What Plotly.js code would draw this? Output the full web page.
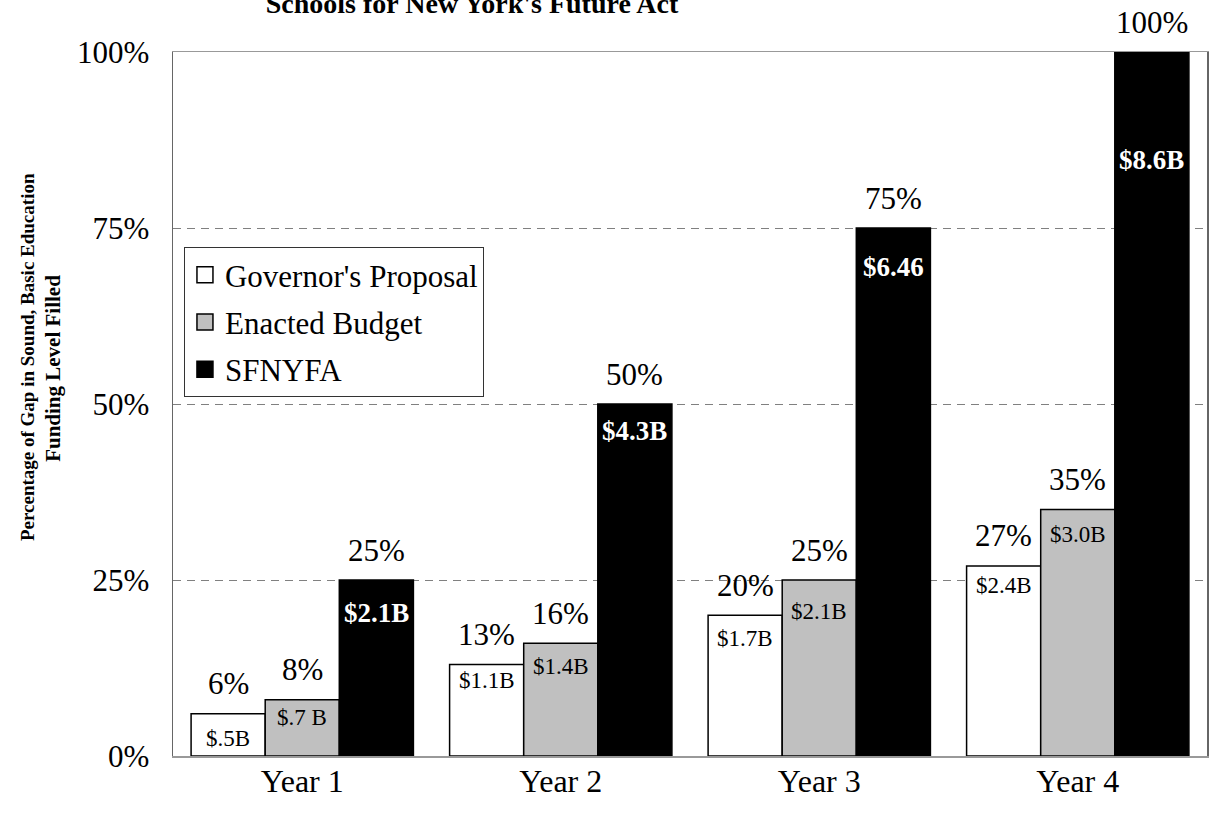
<!DOCTYPE html>
<html>
<head>
<meta charset="utf-8">
<script src="https://cdn.plot.ly/plotly-3.0.1.min.js"></script>
<style>html,body{margin:0;padding:0;background:#fff;}#chart{width:1210px;height:824px;}</style>
</head>
<body>
<div id="chart"></div>
<script>
const categories = ['Year 1', 'Year 2', 'Year 3', 'Year 4'];
const seriesNames = ["Governor's Proposal", 'Enacted Budget', 'SFNYFA'];
const governorPct = [6, 13, 20, 27];
const enactedPct = [8, 16, 25, 35];
const sfnyfaPct = [25, 50, 75, 100];
const governorDollars = ['$.5B', '$1.1B', '$1.7B', '$2.4B'];
const enactedDollars = ['$.7 B', '$1.4B', '$2.1B', '$3.0B'];
const sfnyfaDollars = ['$2.1B', '$4.3B', '$6.46', '$8.6B'];
const yTickVals = [0, 25, 50, 75, 100];
const yTickText = ['0%', '25%', '50%', '75%', '100%'];

const serif = '"Liberation Serif", "Times New Roman", serif';
const fills = ['#ffffff', '#c0c0c0', '#000000'];
const allPct = [governorPct, enactedPct, sfnyfaPct];
const allDollars = [governorDollars, enactedDollars, sfnyfaDollars];
// pixel offsets (below bar top) of the dollar labels, per series
const dollarShiftPx = [[-25, -16, -23, -20], [-18, -23, -31, -25], [-33, -27, -39, -108]];

const traces = allPct.map((vals, i) => ({
  type: 'bar',
  name: seriesNames[i],
  x: categories,
  y: vals,
  marker: {color: fills[i], line: {color: '#000', width: 1.5}},
  showlegend: false,
  hoverinfo: 'none'
}));
// legend entries (no data points) so the legend squares can be larger
seriesNames.forEach((nm, i) => {
  traces.push({
    type: 'scatter', mode: 'markers', name: nm,
    x: [null], y: [null], legendgroup: 'g' + i,
    marker: {symbol: 'square', size: 16, color: fills[i], line: {color: '#000', width: 1.5}},
    hoverinfo: 'none'
  });
});

const barPx = 74;
const annotations = [];
allPct.forEach((vals, i) => {
  vals.forEach((v, j) => {
    annotations.push({
      x: categories[j], y: v, xref: 'x', yref: 'y',
      xshift: (i - 1) * barPx, yshift: 30, yanchor: 'middle',
      text: v + '%', showarrow: false,
      font: {family: serif, size: 31, color: '#000'}
    });
    const white = i === 2;
    annotations.push({
      x: categories[j], y: v, xref: 'x', yref: 'y',
      xshift: (i - 1) * barPx, yshift: dollarShiftPx[i][j], yanchor: 'middle',
      text: white ? '<b>' + allDollars[i][j] + '</b>' : allDollars[i][j],
      showarrow: false,
      font: {family: serif, size: white ? 27 : 23, color: white ? '#fff' : '#000'}
    });
  });
});
annotations.push({
  xref: 'paper', yref: 'paper', x: -0.140, y: 0.567, xanchor: 'center', yanchor: 'middle',
  textangle: -90, showarrow: false,
  text: '<b>Percentage of Gap in Sound, Basic Education</b>',
  font: {family: serif, size: 19, color: '#000'}
});
annotations.push({
  xref: 'paper', yref: 'paper', x: -0.116, y: 0.55, xanchor: 'center', yanchor: 'middle',
  textangle: -90, showarrow: false,
  text: '<b>Funding Level Filled</b>',
  font: {family: serif, size: 21, color: '#000'}
});

const layout = {
  width: 1210, height: 824,
  margin: {l: 173, r: 3, t: 52, b: 68},
  paper_bgcolor: '#fff', plot_bgcolor: '#fff',
  barmode: 'group', bargap: 0.14, bargroupgap: 0,
  showlegend: true,
  title: {
    text: "<b>Schools for New York's Future Act</b>",
    font: {family: serif, size: 28, color: '#000'},
    x: 472 / 1210, xref: 'container', xanchor: 'center',
    y: 1 - 3 / 824, yref: 'container', yanchor: 'middle'
  },
  legend: {
    x: 0.0106, y: 0.723, xanchor: 'left', yanchor: 'top',
    bgcolor: '#fff', bordercolor: '#333', borderwidth: 1,
    font: {family: serif, size: 31, color: '#000'},
    traceorder: 'grouped', tracegroupgap: 4
  },
  xaxis: {
    type: 'category',
    showline: true, mirror: true, linecolor: '#999', linewidth: 1.5,
    ticks: '', ticklabelstandoff: -4,
    tickfont: {family: serif, size: 32, color: '#000'},
    showgrid: false, fixedrange: true
  },
  yaxis: {
    range: [0, 100],
    tickvals: yTickVals, ticktext: yTickText,
    showline: true, mirror: true, linecolor: '#666', linewidth: 1.5,
    ticks: 'outside', ticklen: 16, tickcolor: 'rgba(0,0,0,0)',
    tickfont: {family: serif, size: 31, color: '#000'},
    showgrid: true, gridcolor: '#808080', gridwidth: 1, griddash: '8px,6px',
    zeroline: false, fixedrange: true
  },
  annotations: annotations
};

Plotly.newPlot('chart', traces, layout, {displayModeBar: false, staticPlot: true});
</script>
</body>
</html>
